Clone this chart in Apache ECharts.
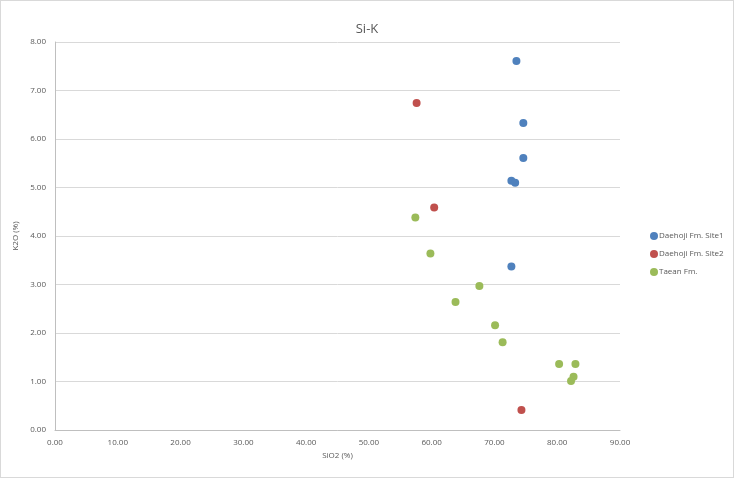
<!DOCTYPE html>
<html><head><meta charset="utf-8">
<script src="https://cdn.jsdelivr.net/npm/echarts@6/dist/echarts.min.js"></script>
<style>html,body{margin:0;padding:0;background:#fff}#c{width:734px;height:478px;box-sizing:border-box;border:1px solid #d9d9d9}</style>
</head><body><div id="c"></div>
<script>
const title = "Si-K";
const xName = "SiO2 (%)";
const yName = "K2O (%)";
const seriesNames = ["Daehoji Fm. Site1", "Daehoji Fm. Site2", "Taean Fm."];
const site1 = [[73.5, 7.61], [74.6, 6.33], [74.6, 5.61], [72.7, 5.14], [73.3, 5.10], [72.7, 3.37]];
const site2 = [[57.6, 6.74], [60.4, 4.59], [74.3, 0.41]];
const taean = [[57.4, 4.38], [59.8, 3.64], [67.6, 2.97], [63.8, 2.64], [70.1, 2.16], [71.3, 1.81], [80.3, 1.36], [82.9, 1.36], [82.6, 1.10], [82.2, 1.01]];
const colors = ["#4F81BD", "#C0504D", "#9BBB59"];
const chart = echarts.init(document.getElementById('c'));
const font = "'Open Sans', sans-serif";
const data = [site1, site2, taean];
chart.setOption({
  animation: false,
  textStyle: {fontFamily: font},
  title: {text: title, left: 'center', top: 17, textStyle: {fontSize: 13, fontWeight: 'normal', color: '#595959', fontFamily: font}},
  legend: {orient: 'vertical', left: 644, top: 226, itemWidth: 8, itemHeight: 8, itemGap: 10, icon: 'circle',
    textStyle: {fontSize: 8, color: '#595959', padding: [0,0,0,-4]}, data: seriesNames},
  grid: {left: 54, right: 113, top: 41, bottom: 47, containLabel: false},
  xAxis: {type: 'value', min: 0, max: 90, interval: 10, name: xName, nameLocation: 'middle', nameGap: 22,
    nameTextStyle: {fontSize: 8, color: '#595959'},
    axisLine: {show: true, lineStyle: {color: '#bfbfbf'}}, axisTick: {show: false},
    splitLine: {show: false},
    axisLabel: {fontSize: 8, color: '#595959', formatter: v => v.toFixed(2), margin: 9}},
  yAxis: {type: 'value', min: 0, max: 8, interval: 1, name: yName, nameLocation: 'middle', nameGap: 32,
    nameTextStyle: {fontSize: 8, color: '#595959'},
    axisLine: {show: true, lineStyle: {color: '#bfbfbf'}}, axisTick: {show: false},
    splitLine: {lineStyle: {color: '#d9d9d9'}},
    axisLabel: {fontSize: 8, color: '#595959', formatter: v => v.toFixed(2), margin: 9}},
  series: seriesNames.map((n, i) => ({name: n, type: 'scatter', data: data[i], symbolSize: 8, itemStyle: {color: colors[i], opacity: 1}}))
});
</script></body></html>
